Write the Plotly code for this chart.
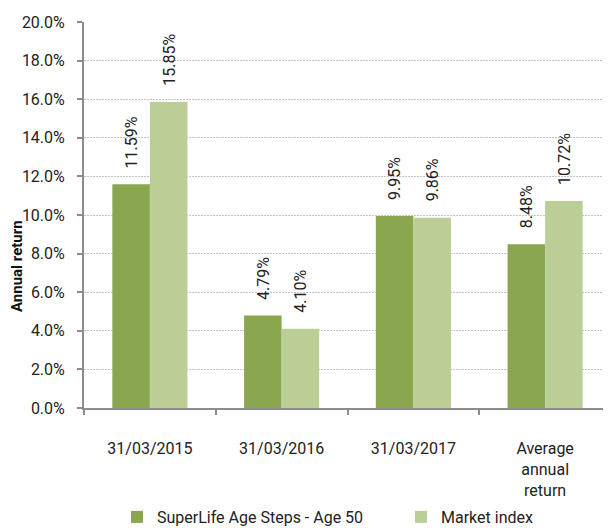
import plotly.graph_objects as go

categories = ["31/03/2015", "31/03/2016", "31/03/2017", "Average<br>annual<br>return"]
superlife = [0.1159, 0.0479, 0.0995, 0.0848]
market = [0.1585, 0.0410, 0.0986, 0.1072]
series_names = ["SuperLife Age Steps - Age 50", "Market index"]
colors = ["#8AA64F", "#BACE96"]

FONT = "Roboto"
TXT = "#222222"
AXIS = "#8c8c8c"
bargap = 0.43

W, H = 603, 520          # page body adds 8px offset
L, T, B = 76, 14, 120    # plot area: left 84, top 22, bottom 408 on screen
PW, PH = W - L, H - T - B

fig = go.Figure()
for k, (name, vals, col) in enumerate(zip(series_names, [superlife, market], colors)):
    fig.add_trace(go.Bar(x=categories, y=vals, name=name, showlegend=True,
                         legend="legend" if k == 0 else "legend2",
                         marker=dict(color=col, line=dict(width=0))))

half = (1 - bargap) / 2
for k, vals in enumerate([superlife, market]):
    off = -half / 2 if k == 0 else half / 2
    for i, v in enumerate(vals):
        fig.add_annotation(x=i + off, y=v, xref="x", yref="y", text=f"{v:.2%}",
                           textangle=-90, showarrow=False, yanchor="bottom", xanchor="center",
                           yshift=14, font=dict(family=FONT, size=16, color=TXT))

fig.add_annotation(xref="paper", yref="paper", x=(16.5 - 8 - L) / PW, y=(408 - 266.5) / PH,
                   text="<b>Annual return</b>", textangle=-90, showarrow=False,
                   xanchor="center", yanchor="middle", font=dict(family=FONT, size=15, color="#111111"))

leg_common = dict(orientation="h", yref="container", y=1 - (517 - 8) / H, yanchor="middle",
                  xanchor="left", font=dict(family=FONT, size=16, color=TXT),
                  bgcolor="rgba(0,0,0,0)", visible=True)

fig.update_layout(
    width=W, height=H,
    margin=dict(l=L, r=0, t=T, b=B),
    paper_bgcolor="white", plot_bgcolor="white",
    showlegend=True,
    barmode="group", bargap=bargap, bargroupgap=0,
    font=dict(family=FONT, size=16, color=TXT),
    legend=dict(x=(117 - 8 - L) / PW, **leg_common),
    legend2=dict(x=(401 - 8 - L) / PW, **leg_common),
    xaxis=dict(type="category", tickson="boundaries", ticks="outside", ticklen=5, tickwidth=2,
               tickcolor=AXIS, showline=True, linecolor=AXIS, linewidth=2, showgrid=False,
               automargin=False,
               ticklabelstandoff=25, tickfont=dict(family=FONT, size=16, color=TXT)),
    yaxis=dict(range=[0, 0.2], dtick=0.02, tickformat=".1%", showgrid=True, gridcolor="#c4c4c4",
               gridwidth=1, griddash="2px,1px", ticks="outside", ticklen=5, tickwidth=2,
               tickcolor=AXIS, showline=True, linecolor=AXIS, linewidth=2, zeroline=False,
               automargin=False,
               ticklabelstandoff=9, tickfont=dict(family=FONT, size=16, color=TXT)),
)

fig.write_html("out.html")
